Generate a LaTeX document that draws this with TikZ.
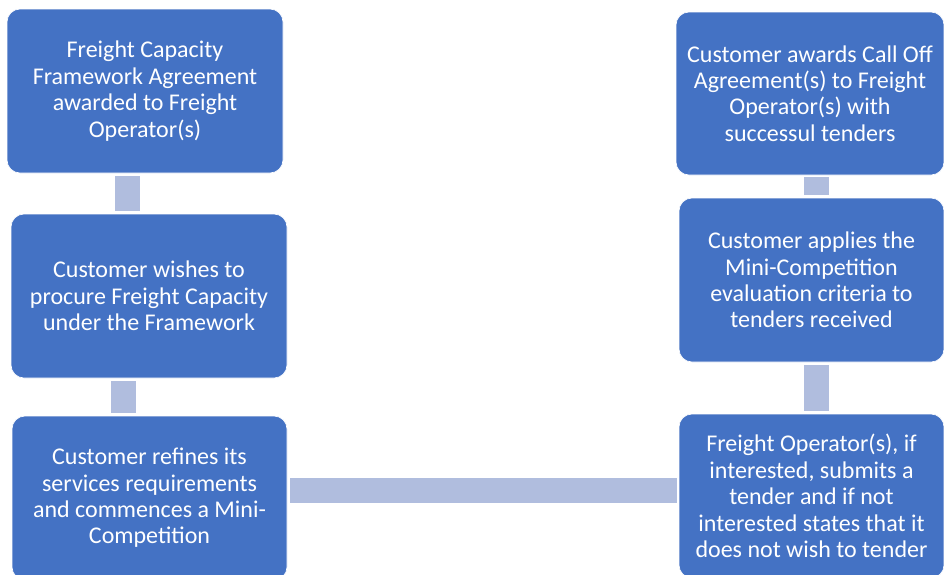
\documentclass[tikz,border=0pt]{standalone}
\usepackage{fontspec}
\setmainfont{Carlito}
\usetikzlibrary{calc}
\definecolor{boxblue}{RGB}{68,114,196}
\definecolor{barblue}{RGB}{176,189,222}
\tikzset{
  stage/.style={draw=white, line width=0.6pt, fill=boxblue, rounded corners=13pt,
    text=white, align=center, minimum height=164pt,
    font=\fontsize{24}{26.4}\selectfont},
  bar/.style={draw=barblue, line width=25pt, line cap=butt}
}
\begin{document}
\begin{tikzpicture}[x=1pt,y=1pt,yscale=-1,xscale=1]
        \useasboundingbox (0,0) rectangle (944,574);
        \clip (0,0) rectangle (944,574);
        %Shape: Rounded Rectangle [stage frame]
        \node [stage, minimum width=276pt] (frame) at (145,91) {Freight Capacity\\Framework Agreement\\awarded to Freight\\Operator(s)};
        %Shape: Rounded Rectangle [stage wish]
        \node [stage, minimum width=276pt] (wish) at (149,296) {Customer wishes to\\procure Freight Capacity\\under the Framework};
        %Shape: Rounded Rectangle [stage refine]
        \node [stage, minimum width=275pt] (refine) at (149.5,498) {Customer refines its\\services requirements\\and commences a Mini-\\Competition};
        %Shape: Rounded Rectangle [stage submit]
        \node [stage, minimum width=265pt] (submit) at (811.5,496) {Freight Operator(s), if\\interested, submits a\\tender and if not\\interested states that it\\does not wish to tender};
        %Shape: Rounded Rectangle [stage apply]
        \node [stage, minimum width=265pt] (apply) at (811.5,280) {Customer applies the\\Mini-Competition\\evaluation criteria to\\tenders received};
        %Shape: Rounded Rectangle [stage award]
        \node [stage, minimum width=268pt, minimum height=163pt] (award) at (810,93.5) {Customer awards Call Off\\Agreement(s) to Freight\\Operator(s) with\\successul tenders};

        %Straight Lines [bars]
        \draw [bar, shorten <=3pt, shorten >=3pt] ([xshift=-17.5pt]frame.south) -- ([xshift=-17.5pt]frame.south |- wish.north);
        \draw [bar, shorten <=3pt, shorten >=3pt] ([xshift=-26pt]wish.south) -- ([xshift=-26pt]wish.south |- refine.north);
        \draw [bar, shorten <=3pt, shorten >=2pt] ([yshift=-8pt]refine.east) -- ([yshift=-8pt]refine.east -| submit.west);
        \draw [bar, shorten <=3pt, shorten >=3pt] ([xshift=4.5pt]submit.north) -- ([xshift=4.5pt]submit.north |- apply.south);
        \draw [bar, shorten <=3pt, shorten >=2pt] ([xshift=4.5pt]apply.north) -- ([xshift=4.5pt]apply.north |- award.south);
\end{tikzpicture}
\end{document}
